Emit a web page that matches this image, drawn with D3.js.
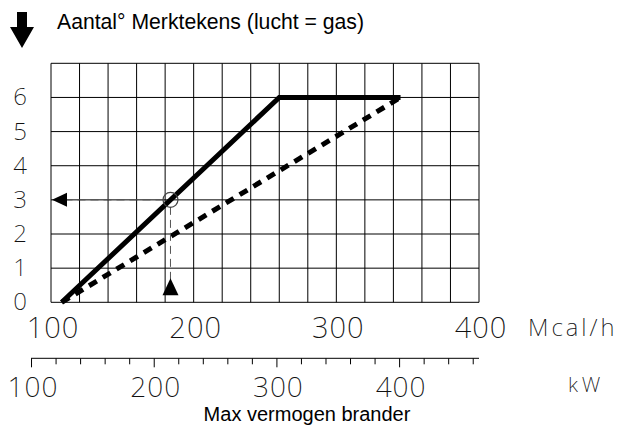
<!DOCTYPE html>
<html>
<head>
<meta charset="utf-8">
<script src="https://cdn.jsdelivr.net/npm/d3@7"></script>
<style>
  html, body { margin: 0; padding: 0; background: #fff; }
  svg { display: block; }
  .thin { font-family: "Noto Sans", sans-serif; font-weight: 200; fill: #111; }
  .sans { font-family: "Liberation Sans", Arial, sans-serif; fill: #000; }
</style>
</head>
<body>
<svg id="chart" width="619" height="428"></svg>
<script>
// Burner capacity (Mcal/h) against number of marks (air = gas)
const mcalTicks = [100, 200, 300, 400];
const kwMajorTicks = [100, 200, 300, 400];
const yTicks = [0, 1, 2, 3, 4, 5, 6];

// solid curve: marks rise linearly then level off at 6
const solidMcal = [107.5, 260, 345];
const solidMarks = [0, 6, 6];

// dotted curve: straight rise to 6 marks at the top capacity
const dottedMcal = [107.5, 345];
const dottedMarks = [0, 6];

// worked example read-off point
const exampleMcal = [183.75];
const exampleMarks = [3];

const KW_TO_MCAL = 0.86;

const svg = d3.select("#chart");

const x = d3.scaleLinear().domain([100, 400]).range([51, 479]);
const y = d3.scaleLinear().domain([0, 7]).range([302.3, 63.3]);
// kW scale shares the same pixel positions through the unit conversion
const kw = d3.scaleLinear()
  .domain([100, 400 / KW_TO_MCAL])
  .range([x(100 * KW_TO_MCAL), x(400)]);

// grid: 15 columns of 20 Mcal/h, 7 rows of one mark
const g = svg.append("g");
const xGrid = d3.range(100, 400.1, 20);
g.selectAll("line.v").data(xGrid).join("line")
  .attr("x1", d => x(d)).attr("x2", d => x(d))
  .attr("y1", y(0)).attr("y2", y(7))
  .attr("stroke", "#000").attr("stroke-width", 1);
g.selectAll("line.h").data(d3.range(0, 7.1, 1)).join("line")
  .attr("x1", x(100)).attr("x2", x(400))
  .attr("y1", d => y(d)).attr("y2", d => y(d))
  .attr("stroke", "#000").attr("stroke-width", 1);

// y tick labels
svg.append("g").selectAll("text").data(yTicks).join("text")
  .attr("class", "thin")
  .attr("x", 20).attr("y", d => y(d) + 8)
  .attr("text-anchor", "middle")
  .attr("font-size", 24)
  .text(d => d);

// Mcal/h labels
svg.append("g").selectAll("text").data(mcalTicks).join("text")
  .attr("class", "thin")
  .attr("x", d => x(d) + 2).attr("y", 338)
  .attr("text-anchor", "middle")
  .attr("font-size", 29)
  .attr("letter-spacing", 1)
  .text(d => d);
svg.append("text").attr("class", "thin")
  .attr("x", 528).attr("y", 336)
  .attr("font-size", 24).attr("letter-spacing", 3)
  .text("Mcal/h");

// kW axis
const kwAxis = d3.axisBottom(kw)
  .tickValues(d3.range(100, 461, 20))
  .tickSize(6)
  .tickFormat("");
const kwG = svg.append("g").attr("transform", "translate(0,358.3)").call(kwAxis);
kwG.select(".domain").attr("d", `M${kw(100)},0H${x(400)}`).attr("stroke", "#000");
kwG.selectAll(".tick line")
  .attr("y2", d => kwMajorTicks.includes(d) ? 9 : 6)
  .attr("stroke", "#000");

svg.append("g").selectAll("text").data(kwMajorTicks).join("text")
  .attr("class", "thin")
  .attr("x", d => kw(d) + 2).attr("y", 397)
  .attr("text-anchor", "middle")
  .attr("font-size", 28)
  .attr("letter-spacing", 1)
  .text(d => d);
svg.append("text").attr("class", "thin")
  .attr("x", 568).attr("y", 392)
  .attr("font-size", 21).attr("letter-spacing", 4)
  .text("kW");

// curves
const line = d3.line().x(d => x(d[0])).y(d => y(d[1]));
svg.append("path")
  .datum(solidMcal.map((v, i) => [v, solidMarks[i]]))
  .attr("d", line)
  .attr("fill", "none").attr("stroke", "#000")
  .attr("stroke-width", 5).attr("stroke-linejoin", "miter");
svg.append("path")
  .datum(dottedMcal.map((v, i) => [v, dottedMarks[i]]))
  .attr("d", line)
  .attr("fill", "none").attr("stroke", "#000")
  .attr("stroke-width", 5).attr("stroke-dasharray", "9,7");

// read-off guides
const ex = x(exampleMcal[0]), ey = y(exampleMarks[0]);
const guide = svg.append("g").attr("stroke", "#555").attr("stroke-width", 1)
  .attr("stroke-dasharray", "8,5").attr("fill", "none");
guide.append("line").attr("x1", ex - 7).attr("x2", x(100) + 14).attr("y1", ey).attr("y2", ey);
guide.append("line").attr("x1", ex).attr("x2", ex).attr("y1", ey + 7).attr("y2", y(0) - 22);
svg.append("circle").attr("cx", ex).attr("cy", ey).attr("r", 7.5)
  .attr("fill", "none").attr("stroke", "#444").attr("stroke-width", 1.2);

// arrowheads on the guides
svg.append("path")
  .attr("d", `M${x(100) + 1},${ey}L${x(100) + 16},${ey - 7}L${x(100) + 16},${ey + 7}Z`)
  .attr("fill", "#000");
svg.append("path")
  .attr("d", `M${ex},${y(0) - 24}L${ex + 8},${y(0) - 7}L${ex - 8},${y(0) - 7}Z`)
  .attr("fill", "#000");

// reading direction arrow beside the axis title
svg.append("path")
  .attr("d", "M17,12H27V27H34L22,48L10,27H17Z")
  .attr("fill", "#000");

svg.append("text").attr("class", "sans")
  .attr("x", 57).attr("y", 29)
  .attr("font-size", 21.2)
  .text("Aantal° Merktekens (lucht = gas)");

svg.append("text").attr("class", "sans")
  .attr("x", 307).attr("y", 421)
  .attr("text-anchor", "middle")
  .attr("font-size", 20)
  .text("Max vermogen brander");
</script>
</body>
</html>
